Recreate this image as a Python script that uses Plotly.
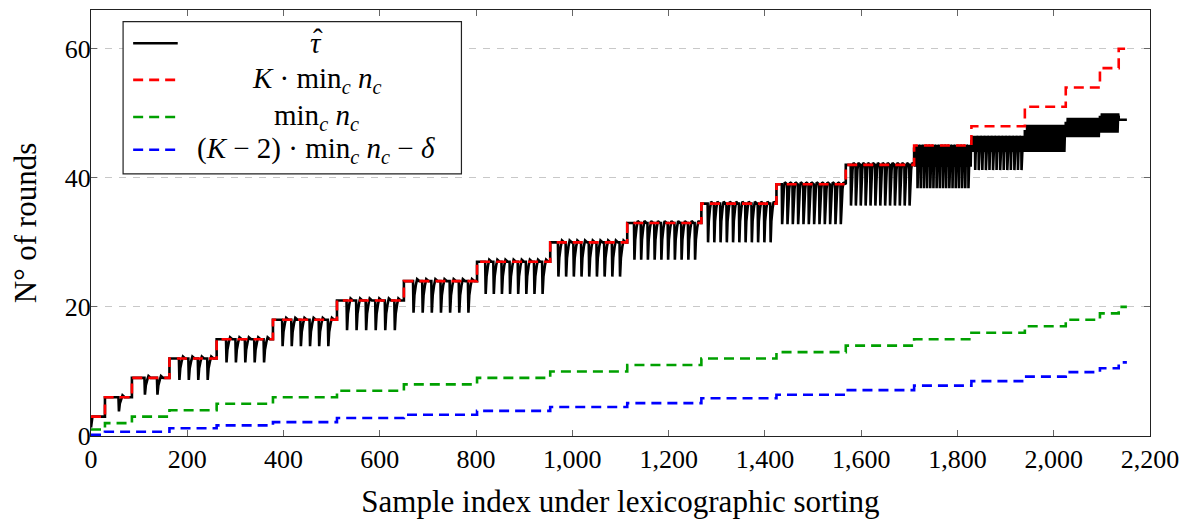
import plotly.graph_objects as go

# blocks of constant min_c n_c (start index of each block, lexicographic order)
block_start = [0, 29, 85, 163, 261, 378, 511, 650, 802, 954, 1114, 1268, 1424, 1568, 1710, 1829, 1940, 2025, 2096, 2135]
x_end = 2152

min_nc = [1, 2, 3, 4, 5, 6, 7, 8, 9, 10, 11, 12, 13, 14, 15, 16, 17, 18, 19, 20]
k_min_nc = [3, 6, 9, 12, 15, 18, 21, 24, 27, 30, 33, 36, 39, 42, 45, 48, 51, 54, 57, 60]
lower_bound = [0.2, 0.65, 0.65, 1.2, 1.65, 2.15, 2.8, 3.3, 3.9, 4.5, 5.1, 5.85, 6.4, 7.1, 7.8, 8.5, 9.2, 9.9, 10.5, 11.4]

# tau_hat per block: plateau, depth of the big dips, number of dips, sub-dips, spikes
tau_start = 1.3
tau_top = [3, 6, 9, 12, 15, 18, 21, 24, 27, 30, 33, 36, 39, 42, 44.5, 45.7, 47.2, 48.5, 49.4, 49.0]
tau_bottom = [3, 3.8, 6.4, 8.7, 11.4, 13.9, 16.4, 19.1, 22.0, 24.7, 27.3, 30.0, 32.8, 35.7, 38.4, 41.2, 44.0, 46.3, 47.0, 49.0]
tau_dips = [0, 1, 2, 4, 5, 6, 6, 7, 8, 9, 10, 11, 12, 13, 17, 14, 26, 26, 14, 0]
tau_mid = [None] * 14 + [41.7, 44.0, None, None, None, None]
tau_subdips = [0] * 14 + [3, 3, 0, 0, 0, 0]
tau_spike = [0.3] * 14 + [0.6, 0.8, 1.0, 0.8, 0.6, 0]


def add_tooth(xs, ys, xd, t, b, w, ov):
    d = t - b
    xs += [xd, xd + 0.08 * w, xd + 0.22 * w, xd + 0.45 * w, xd + 0.65 * w, xd + w]
    ys += [t, b, b + 0.55 * d, t - 0.12 * d, t + ov, t]


tau_x, tau_y = [0], [tau_start]
ends = block_start[1:] + [x_end]
for i, s in enumerate(block_start):
    e = ends[i]
    t, b, n = tau_top[i], tau_bottom[i], tau_dips[i]
    if i > 0:
        tau_x += [s, s]
        tau_y += [tau_top[i - 1], t]
    else:
        tau_x.append(3)
        tau_y.append(t)
    seg = (e - s) / (n + 1)
    w = min(13, seg * 0.85)
    for j in range(n + 1):
        x0 = s + j * seg
        if j > 0:
            add_tooth(tau_x, tau_y, x0, t, b, w, tau_spike[i])
        k = tau_subdips[i]
        if k:
            sub = seg / (k + 1)
            for q in range(1, k + 1):
                add_tooth(tau_x, tau_y, x0 + q * sub, t, tau_mid[i], min(6, sub * 0.8), tau_spike[i])
    tau_x.append(e)
    tau_y.append(t)

step_x = block_start + [x_end]
dash = '10px,6px'

fig = go.Figure()
fig.add_trace(go.Scatter(x=tau_x, y=tau_y, mode='lines', line=dict(color='black', width=2.6)))
fig.add_trace(go.Scatter(x=step_x, y=k_min_nc + [k_min_nc[-1]], mode='lines', line_shape='hv',
                         line=dict(color='#ff0000', width=2.6, dash=dash)))
fig.add_trace(go.Scatter(x=step_x, y=min_nc + [min_nc[-1]], mode='lines', line_shape='hv',
                         line=dict(color='#00a000', width=2.6, dash=dash)))
fig.add_trace(go.Scatter(x=step_x, y=lower_bound + [lower_bound[-1]], mode='lines', line_shape='hv',
                         line=dict(color='#0000ff', width=2.6, dash=dash)))

font = 'Liberation Serif'
# the page body adds an 8px margin, so the figure is a little smaller than the window
fig.update_layout(
    width=1183, height=517,
    margin=dict(l=83, r=41, t=2, b=89),
    plot_bgcolor='white', paper_bgcolor='white',
    showlegend=False,
    font=dict(family=font, size=26, color='black'),
)
fig.update_xaxes(range=[0, 2200], tick0=0, dtick=200, tickformat=',', ticks='inside', ticklen=6,
                 tickcolor='#666', mirror='allticks', showline=True, linecolor='#222', linewidth=1.2,
                 showgrid=False, zeroline=False,
                 title=dict(text='Sample index under lexicographic sorting', standoff=17))
fig.update_yaxes(range=[0, 66], tickvals=[0, 20, 40, 60], ticks='inside', ticklen=6,
                 tickcolor='#666', mirror='allticks', showline=True, linecolor='#222', linewidth=1.2,
                 ticklabelstandoff=-6,
                 showgrid=True, gridcolor='#c8c8c8', griddash='7px,7px', gridwidth=1, zeroline=False,
                 title=dict(text='N° of rounds', standoff=20))

# legend box drawn by hand so the labels can be centred like the original
lx0, lx1, ly0, ly1 = 0.0303, 0.3498, 0.6154, 0.9726
fig.add_shape(type='rect', xref='paper', yref='paper', x0=lx0, x1=lx1, y0=ly0, y1=ly1,
              line=dict(color='#222', width=1.2), fillcolor='white', layer='above')
legend_rows = [
    ('black', 'solid', '<i>τ</i>'),
    ('#ff0000', dash, '<i>K</i> · min<sub><i>c</i></sub> <i>n<sub>c</sub></i>'),
    ('#00a000', dash, 'min<sub><i>c</i></sub> <i>n<sub>c</sub></i>'),
    ('#0000ff', dash, '(<i>K</i> − 2) · min<sub><i>c</i></sub> <i>n<sub>c</sub></i> − <i>δ</i>'),
]
row_y = [0.922, 0.836, 0.749, 0.672]
for (col, ds, label), yy in zip(legend_rows, row_y):
    fig.add_shape(type='line', xref='paper', yref='paper', x0=0.0398, x1=0.0819, y0=yy, y1=yy,
                  line=dict(color=col, width=2.6, dash=ds), layer='above')
    fig.add_annotation(xref='paper', yref='paper', x=0.2129, y=yy, text=label, showarrow=False,
                       xanchor='center', yanchor='middle', font=dict(size=29))
# hat over tau
fig.add_annotation(xref='paper', yref='paper', x=0.2129, y=row_y[0], text='ˆ', showarrow=False,
                   xanchor='center', yanchor='middle', xshift=2, yshift=4, font=dict(size=29))

fig.write_html('out.html')
